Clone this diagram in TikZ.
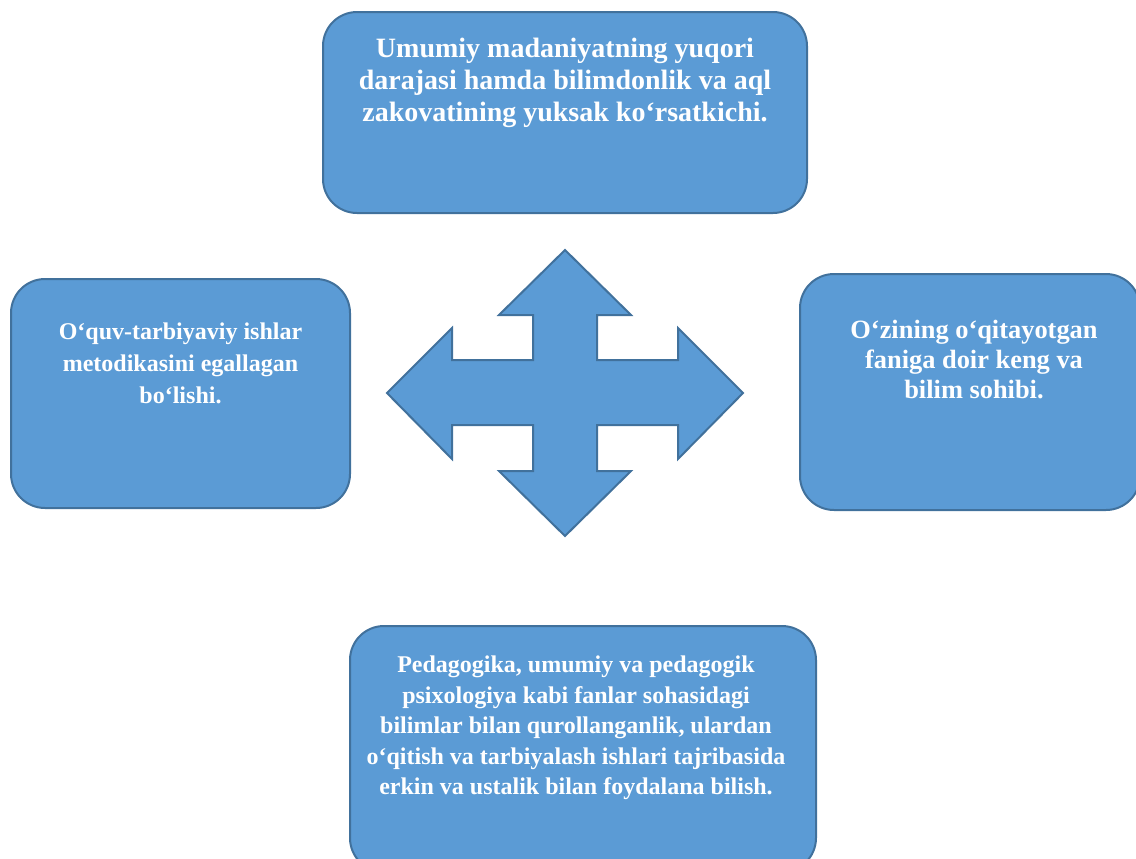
\documentclass[tikz,border=0pt]{standalone}
\usepackage{fontspec}
\setmainfont{Liberation Serif}
\definecolor{boxblue}{RGB}{91,155,213}
\definecolor{boxedge}{RGB}{65,113,156}
\tikzset{
  infobox/.style = {
    draw=boxedge, fill=boxblue, line width=1pt,
    rounded corners=17pt, inner sep=0pt
  },
  % #1 = font size, #2 = line skip
  infotext/.style 2 args = {
    text=white, align=center, anchor=north, inner sep=0pt,
    font=\bfseries\fontsize{#1}{#2}\selectfont
  },
  crossarrow/.style = {
    draw=boxedge, fill=boxblue, line width=1pt, line join=miter
  }
}

\begin{document}
\begin{tikzpicture}[x=0.5pt, y=-0.5pt]
  % frame of the picture, coordinates in pixels
  \useasboundingbox (0,0) rectangle (1136,858);
  \clip (0,0) rectangle (1136,858);

  % four boxes round the cross
  \node[infobox, minimum width=242pt, minimum height=100.5pt] (topbox) at (565,112.5) {};
  \node[infobox, minimum width=169.5pt, minimum height=114.5pt] (leftbox) at (180.5,393.5) {};
  \node[infobox, minimum width=170pt, minimum height=118pt] (rightbox) at (970,392) {};
  \node[infobox, minimum width=233pt, minimum height=123pt] (bottombox) at (583,749) {};

  % texts, hanging from the top of each box
  \node[infotext={14pt}{16pt}, yshift=-13.5pt] (toptext) at (topbox.north)
    {Umumiy madaniyatning yuqori\\ darajasi hamda bilimdonlik va aql\\ zakovatining yuksak ko‘rsatkichi.};
  \node[infotext={12pt}{16pt}, yshift=-22pt] (lefttext) at (leftbox.north)
    {O‘quv-tarbiyaviy ishlar\\ metodikasini egallagan\\ bo‘lishi.};
  \node[infotext={13.2pt}{15pt}, yshift=-23.6pt, xshift=2pt] (righttext) at (rightbox.north)
    {O‘zining o‘qitayotgan\\ faniga doir keng va\\ bilim sohibi.};
  \node[infotext={12pt}{15.25pt}, yshift=-15.4pt, xshift=-3.5pt] (bottomtext) at (bottombox.north)
    {Pedagogika, umumiy va pedagogik\\ psixologiya kabi fanlar sohasidagi\\ bilimlar bilan qurollanganlik, ulardan\\ o‘qitish va tarbiyalash ishlari tajribasida\\ erkin va ustalik bilan foydalana bilish.};

  % four-way arrow in the middle
  \draw[crossarrow] (565,250) -- (631,315) -- (597,315) -- (597,360)
    -- (678,360) -- (678,328) -- (743,393) -- (678,459) -- (678,425)
    -- (597,425) -- (597,471) -- (631,471) -- (565,536) -- (499,471)
    -- (533,471) -- (533,425) -- (452,425) -- (452,459) -- (387,393)
    -- (452,328) -- (452,360) -- (533,360) -- (533,315) -- (499,315) -- cycle;
\end{tikzpicture}
\end{document}
